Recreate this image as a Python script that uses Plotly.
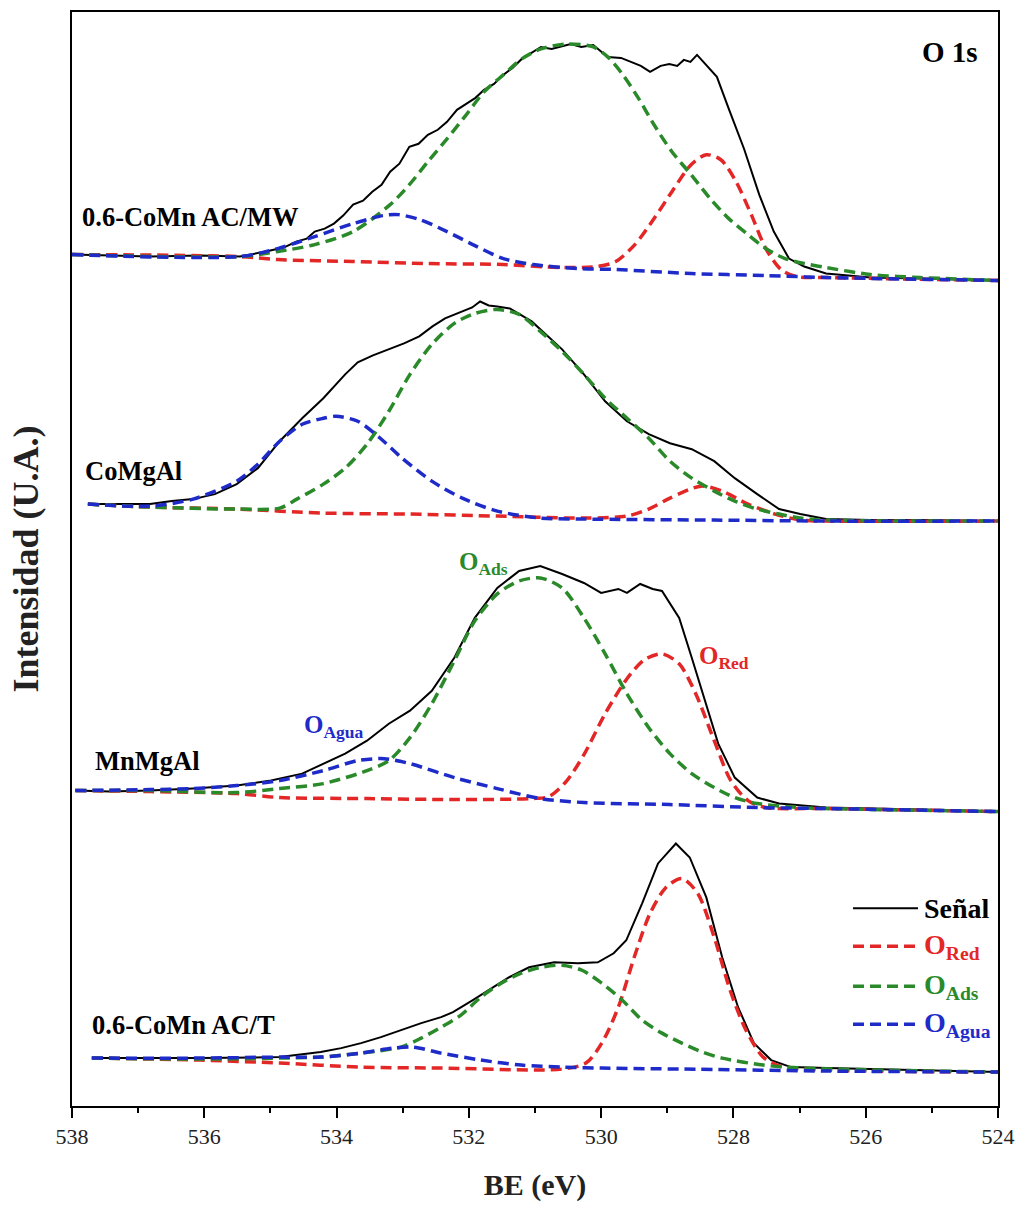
import plotly.graph_objects as go

# ---------------- data (BE in eV, intensity in arbitrary units) ----------------
samples = ["0.6-CoMn AC/MW", "CoMgAl", "MnMgAl", "0.6-CoMn AC/T"]
x_ticks = [538, 536, 534, 532, 530, 528, 526, 524]

mw_signal = [(538.00, 853), (537.43, 852), (536.82, 851), (536.06, 852), (535.46, 851), (535.07, 856),
             (534.80, 860), (534.61, 866), (534.45, 869), (534.33, 876), (534.18, 879), (534.04, 884),
             (533.90, 892), (533.75, 903), (533.60, 907), (533.46, 916), (533.32, 923), (533.19, 936),
             (533.05, 944), (532.90, 961), (532.76, 964), (532.62, 973), (532.47, 978), (532.33, 986),
             (532.18, 998), (532.04, 1004), (531.90, 1010), (531.77, 1018), (531.62, 1024), (531.48, 1033),
             (531.34, 1040), (531.20, 1049), (531.05, 1055), (530.91, 1061), (530.75, 1059), (530.62, 1061),
             (530.46, 1064), (530.30, 1061), (530.12, 1063), (529.90, 1051), (529.70, 1050), (529.55, 1046),
             (529.40, 1042), (529.26, 1036), (529.10, 1042), (528.97, 1044), (528.85, 1042), (528.75, 1048),
             (528.65, 1046), (528.55, 1053), (528.41, 1043), (528.25, 1031), (528.07, 999), (527.84, 959),
             (527.61, 913), (527.39, 876), (527.16, 849), (526.93, 841), (526.60, 834), (525.93, 830),
             (525.18, 829), (524.57, 828), (524.00, 827)]
mw_red = [(538.00, 853), (535.46, 851), (534.89, 848), (533.75, 846), (532.62, 844), (531.48, 843),
          (530.62, 840), (530.06, 841), (529.78, 846), (529.49, 863), (529.20, 889), (528.93, 916),
          (528.64, 943), (528.41, 953), (528.19, 948), (527.96, 926), (527.73, 893), (527.51, 859),
          (527.28, 838), (527.05, 831), (526.60, 830), (524.00, 827)]
mw_ads = [(538.00, 853), (535.46, 851), (534.89, 856), (534.33, 863), (533.75, 876), (533.19, 903),
          (532.90, 923), (532.62, 946), (532.33, 969), (532.04, 993), (531.77, 1016), (531.48, 1033),
          (531.20, 1049), (530.91, 1059), (530.52, 1064), (530.12, 1061), (529.90, 1051), (529.67, 1033),
          (529.43, 1009), (529.20, 983), (528.93, 956), (528.64, 933), (528.35, 909), (528.07, 889),
          (527.78, 873), (527.51, 859), (527.22, 849), (526.93, 844), (526.60, 840), (525.93, 833),
          (525.18, 830), (524.00, 827)]
mw_agua = [(538.00, 853), (535.46, 851), (534.89, 859), (534.33, 871), (533.75, 884), (533.30, 892),
           (533.07, 893), (532.74, 888), (532.33, 876), (531.94, 863), (531.48, 849), (531.03, 843),
           (530.35, 839), (529.78, 838), (528.64, 834), (527.51, 832), (526.60, 830), (524.00, 827)]

co_signal = [(537.76, 603), (537.27, 603), (536.82, 603), (536.49, 606), (536.17, 608), (535.84, 613),
             (535.51, 623), (535.19, 639), (534.86, 666), (534.52, 689), (534.20, 709), (533.87, 733),
             (533.68, 745), (533.45, 752), (533.21, 758), (532.98, 764), (532.75, 771), (532.55, 781),
             (532.36, 789), (532.10, 796), (531.95, 800), (531.83, 806), (531.70, 802), (531.57, 801),
             (531.38, 799), (531.05, 786), (530.59, 758), (530.26, 733), (529.94, 706), (529.61, 686),
             (529.28, 673), (528.96, 664), (528.63, 658), (528.29, 646), (527.98, 629), (527.64, 613),
             (527.31, 598), (526.99, 593), (526.60, 588), (525.93, 587), (525.18, 587), (524.00, 586)]
co_red = [(537.76, 603), (536.82, 600), (535.51, 598), (534.20, 594), (532.89, 593), (531.57, 591),
          (530.26, 589), (529.61, 591), (529.28, 598), (528.96, 609), (528.49, 621), (528.17, 616),
          (527.78, 603), (527.37, 593), (526.99, 587), (526.60, 586), (524.00, 586)]
co_ads = [(537.76, 603), (536.82, 600), (535.51, 598), (534.86, 599), (534.60, 608), (534.20, 623),
          (533.87, 639), (533.54, 663), (533.21, 696), (532.89, 733), (532.56, 763), (532.22, 784),
          (531.91, 794), (531.57, 798), (531.24, 793), (530.92, 776), (530.59, 756), (530.26, 733),
          (529.94, 709), (529.61, 689), (529.28, 669), (528.96, 646), (528.63, 629), (528.29, 616),
          (527.98, 606), (527.64, 598), (527.31, 593), (526.99, 589), (526.60, 587), (524.00, 586)]
co_agua = [(537.76, 603), (536.82, 601), (536.17, 608), (535.51, 626), (535.19, 643), (534.86, 666),
           (534.52, 683), (534.20, 689), (534.01, 691), (533.68, 686), (533.34, 669), (533.01, 649),
           (532.56, 626), (532.10, 609), (531.57, 596), (530.92, 589), (530.26, 588), (528.29, 587),
           (526.60, 586), (524.00, 586)]

mn_signal = [(537.95, 316), (537.43, 315), (536.82, 316), (536.17, 318), (535.51, 321), (534.99, 326),
             (534.52, 333), (534.20, 343), (533.87, 353), (533.54, 366), (533.21, 383), (532.89, 396),
             (532.56, 416), (532.22, 449), (531.91, 489), (531.57, 519), (531.24, 536), (530.92, 541),
             (530.59, 533), (530.26, 524), (530.00, 514), (529.74, 518), (529.61, 514), (529.41, 523),
             (529.22, 518), (529.08, 516), (528.82, 489), (528.63, 449), (528.43, 406), (528.23, 363),
             (527.98, 329), (527.64, 309), (527.31, 303), (526.60, 299), (525.18, 297), (524.00, 295)]
mn_red = [(537.95, 316), (536.82, 315), (535.51, 313), (534.86, 309), (533.54, 308), (532.22, 307),
          (531.05, 308), (530.79, 310), (530.53, 325), (530.26, 352), (529.94, 393), (529.61, 428),
          (529.35, 447), (529.08, 453), (528.82, 443), (528.57, 413), (528.29, 366), (528.04, 326),
          (527.78, 306), (527.51, 299), (526.60, 298), (524.00, 295)]
mn_ads = [(537.95, 316), (536.82, 316), (535.51, 314), (534.86, 318), (534.20, 323), (533.54, 336),
          (533.21, 346), (532.89, 369), (532.56, 403), (532.22, 446), (531.91, 486), (531.57, 513),
          (531.24, 526), (530.92, 529), (530.59, 519), (530.26, 489), (529.94, 453), (529.61, 413),
          (529.28, 379), (528.96, 353), (528.63, 333), (528.29, 319), (527.98, 309), (527.64, 303),
          (526.99, 299), (526.60, 298), (524.00, 295)]
mn_agua = [(537.95, 316), (536.82, 317), (536.17, 318), (535.51, 321), (534.86, 326), (534.20, 336),
           (533.68, 346), (533.28, 348), (532.89, 343), (532.22, 329), (531.57, 318), (530.92, 308),
           (530.26, 304), (528.96, 302), (527.64, 299), (526.60, 298), (524.00, 295)]

t_signal = [(537.70, 48), (536.82, 48), (536.06, 48), (534.86, 49), (534.24, 54), (533.93, 58),
            (533.63, 63), (533.33, 69), (533.03, 76), (532.72, 83), (532.42, 89), (532.24, 94),
            (531.94, 106), (531.70, 116), (531.39, 129), (531.09, 139), (530.71, 144), (530.35, 143),
            (530.05, 144), (529.81, 153), (529.62, 166), (529.38, 203), (529.14, 243), (528.87, 263),
            (528.66, 249), (528.41, 209), (528.17, 149), (527.93, 99), (527.69, 63), (527.43, 46),
            (527.13, 39), (526.58, 38), (525.18, 36), (524.00, 34)]
t_red = [(537.70, 48), (536.06, 46), (534.86, 43), (533.63, 39), (532.42, 38), (530.59, 37),
         (530.23, 43), (529.99, 63), (529.74, 99), (529.50, 149), (529.26, 193), (529.02, 219),
         (528.78, 228), (528.54, 213), (528.29, 169), (528.05, 116), (527.81, 76), (527.55, 49),
         (527.25, 39), (526.58, 36), (524.00, 34)]
t_ads = [(537.70, 48), (536.06, 47), (534.86, 48), (534.24, 49), (533.63, 53), (533.03, 59),
         (532.72, 68), (532.42, 79), (532.12, 91), (531.82, 109), (531.51, 123), (531.21, 133),
         (530.91, 139), (530.59, 141), (530.29, 136), (529.99, 123), (529.68, 106), (529.38, 86),
         (529.08, 73), (528.78, 63), (528.47, 54), (528.17, 48), (527.55, 41), (526.95, 38),
         (524.00, 34)]
t_agua = [(537.70, 48), (536.06, 48), (534.86, 49), (534.24, 49), (533.63, 53), (533.15, 58),
          (532.84, 59), (532.42, 53), (531.82, 46), (531.21, 41), (530.59, 39), (529.99, 38),
          (528.78, 37), (526.58, 35), (524.00, 34)]

# label anchor points (BE, intensity)
sample_label_pos = [(537.88, 891), (537.83, 636), (537.68, 346), (537.73, 81)]

# ---------------- styling ----------------
FONT = "Liberation Serif"
C_SIG = "#000000"
C_RED = "#e32626"
C_ADS = "#2a8a2a"
C_AGUA = "#1f2bc8"
DASH = "11px,6px"

panels = [
    (mw_signal, mw_red, mw_ads, mw_agua),
    (co_signal, co_red, co_ads, co_agua),
    (mn_signal, mn_red, mn_ads, mn_agua),
    (t_signal, t_red, t_ads, t_agua),
]

fig = go.Figure()


def xy(pairs):
    return [p[0] for p in pairs], [p[1] for p in pairs]


for sig, red, ads, agua in panels:
    x, y = xy(sig)
    fig.add_trace(go.Scatter(x=x, y=y, mode="lines", line=dict(color=C_SIG, width=2),
                             showlegend=False, hoverinfo="skip"))
    for comp, col in ((red, C_RED), (ads, C_ADS), (agua, C_AGUA)):
        x, y = xy(comp)
        fig.add_trace(go.Scatter(x=x, y=y, mode="lines",
                                 line=dict(color=col, width=3.5, dash=DASH, shape="spline", smoothing=0.8),
                                 showlegend=False, hoverinfo="skip"))

annotations = []
for name, (bx, by) in zip(samples, sample_label_pos):
    annotations.append(dict(x=bx, y=by, xref="x", yref="y", text=name, showarrow=False,
                            xanchor="left", yanchor="middle",
                            font=dict(family=FONT, size=26.5, color="black", weight="bold")))

annotations += [
    dict(x=524.27, y=1056, xref="x", yref="y", text="O 1s", showarrow=False, xanchor="right",
         yanchor="middle", font=dict(family=FONT, size=29, color="black", weight="bold")),
    dict(x=532.18, y=543, xref="x", yref="y", text="O<sub>Ads</sub>", showarrow=False, xanchor="left",
         yanchor="middle", font=dict(family=FONT, size=25, color=C_ADS, weight="bold")),
    dict(x=528.55, y=449, xref="x", yref="y", text="O<sub>Red</sub>", showarrow=False, xanchor="left",
         yanchor="middle", font=dict(family=FONT, size=25, color=C_RED, weight="bold")),
    dict(x=534.53, y=380, xref="x", yref="y", text="O<sub>Agua</sub>", showarrow=False, xanchor="left",
         yanchor="middle", font=dict(family=FONT, size=25, color=C_AGUA, weight="bold")),
]

# custom legend (line samples + text), in paper coordinates
legend_items = [("Señal", C_SIG, "solid", 2), ("O<sub>Red</sub>", C_RED, DASH, 3.5),
                ("O<sub>Ads</sub>", C_ADS, DASH, 3.5), ("O<sub>Agua</sub>", C_AGUA, DASH, 3.5)]
legend_rows = [0.1807, 0.1460, 0.1095, 0.0748]
shapes = []
for (txt, col, dash, w), ry in zip(legend_items, legend_rows):
    shapes.append(dict(type="line", xref="paper", yref="paper", x0=0.8434, x1=0.9136, y0=ry, y1=ry,
                       line=dict(color=col, width=w, dash=dash)))
    annotations.append(dict(x=0.9179, y=ry, xref="paper", yref="paper", text=txt, showarrow=False,
                            xanchor="left", yanchor="middle",
                            font=dict(family=FONT, size=28, color=col, weight="bold")))

fig.update_layout(
    width=1026, height=1212,
    margin=dict(l=72, r=28, t=10, b=106),
    paper_bgcolor="white", plot_bgcolor="white",
    font=dict(family=FONT, color="black"),
    annotations=annotations,
    shapes=shapes,
    xaxis=dict(range=[538, 524], tickvals=x_ticks, ticktext=[str(v) for v in x_ticks],
               ticks="outside", ticklen=10, tickwidth=1.5, tickcolor="black",
               minor=dict(dtick=1, ticks="outside", ticklen=5, tickwidth=1.5, tickcolor="black"),
               showline=True, linewidth=2, linecolor="black", mirror=True,
               showgrid=False, zeroline=False,
               tickfont=dict(family=FONT, size=22, color="#222"),
               title=dict(text="BE (eV)", standoff=26,
                          font=dict(family=FONT, size=30, color="#222", weight="bold"))),
    yaxis=dict(range=[0, 1096], showticklabels=False, ticks="",
               showline=True, linewidth=2, linecolor="black", mirror=True,
               showgrid=False, zeroline=False,
               title=dict(text="Intensidad (U.A.)", standoff=20,
                          font=dict(family=FONT, size=36, color="#222", weight="bold"))),
)

fig.write_html("out.html")
